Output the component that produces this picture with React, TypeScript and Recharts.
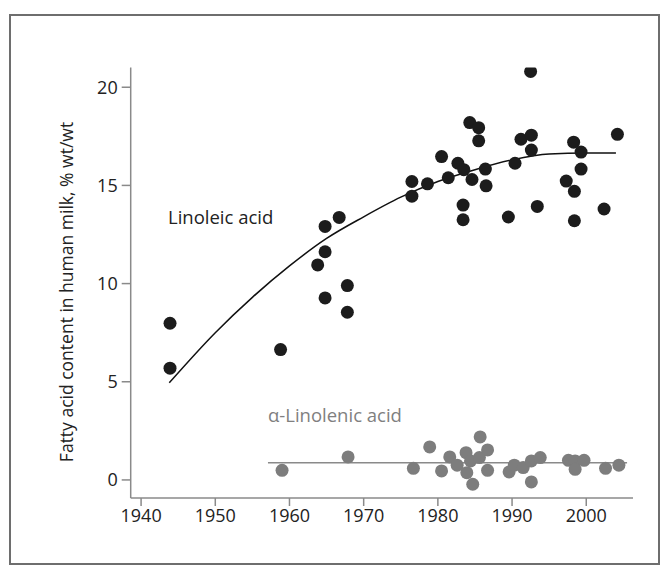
import React from 'react';
import { ComposedChart, Scatter, Line, XAxis, YAxis } from 'recharts';

// Linoleic acid measurements (year, % wt/wt)
const linoleicYears = [
  1943.9, 1943.9, 1958.8, 1963.8, 1964.8, 1964.8, 1964.8, 1966.7, 1967.8, 1967.8,
  1976.5, 1976.5, 1978.6, 1980.5, 1981.4, 1982.7, 1983.5, 1983.4, 1983.4, 1984.3,
  1984.6, 1985.5, 1985.5, 1986.4, 1986.5, 1989.5, 1990.4, 1991.2, 1992.6, 1992.6,
  1992.5, 1993.4, 1997.3, 1998.3, 1998.4, 1998.4, 1999.3, 1999.3, 2002.4, 2004.2,
];
const linoleicValues = [
  7.98, 5.69, 6.64, 10.95, 12.91, 11.62, 9.27, 13.37, 9.9, 8.54,
  15.2, 14.45, 15.08, 16.47, 15.39, 16.13, 15.8, 14.0, 13.25, 18.2,
  15.3, 17.94, 17.27, 15.83, 14.98, 13.39, 16.13, 17.35, 17.56, 16.8,
  20.8, 13.93, 15.22, 17.2, 14.7, 13.2, 16.7, 15.83, 13.8, 17.6,
];

// fitted curve for linoleic acid
const fitYears = [1943.8, 1950, 1955, 1960, 1965, 1970, 1975, 1980, 1985, 1990, 1995, 2000, 2004];
const fitValues = [4.95, 7.5, 9.3, 10.9, 12.3, 13.4, 14.4, 15.2, 15.8, 16.3, 16.6, 16.65, 16.65];

// alpha-linolenic acid measurements
const alphaYears = [
  1959.0, 1967.9, 1976.7, 1978.9, 1980.5, 1981.6, 1982.6, 1983.8, 1983.9, 1984.7,
  1984.4, 1985.6, 1985.7, 1986.7, 1986.7, 1989.6, 1990.3, 1991.5, 1992.6, 1992.6,
  1993.8, 1997.6, 1998.5, 1998.5, 1999.7, 2002.6, 2004.4,
];
const alphaValues = [
  0.49, 1.17, 0.59, 1.68, 0.46, 1.17, 0.75, 1.39, 0.37, -0.22,
  0.97, 1.14, 2.19, 1.53, 0.49, 0.41, 0.75, 0.63, 0.97, -0.1,
  1.14, 1.0, 0.97, 0.54, 1.0, 0.59, 0.75,
];

const alphaMeanYears = [1957.1, 2005.5];
const alphaMeanValues = [0.87, 0.87];

const xTicks = [1940, 1950, 1960, 1970, 1980, 1990, 2000];
const yTicks = [0, 5, 10, 15, 20];

const zip = (xs: number[], ys: number[]) => xs.map((x, i) => ({ x, y: ys[i] }));

const linoleicData = zip(linoleicYears, linoleicValues);
const fitData = zip(fitYears, fitValues);
const alphaData = zip(alphaYears, alphaValues);
const alphaMeanData = zip(alphaMeanYears, alphaMeanValues);

const FONT = '"Open Sans", "Noto Sans", sans-serif';
const AXIS = '#8a8a8a';

const dot = (color: string) => (props: any) => (
  <circle cx={props.cx} cy={props.cy} r={6.5} fill={color} />
);

export default function App() {
  return (
    <div style={{ position: 'absolute', left: 0, top: 0, width: 669, height: 573, background: '#fff', fontFamily: FONT }}>
      <div
        style={{
          position: 'absolute', left: 9, top: 14, width: 651, height: 551,
          border: '2px solid #6e6e6e', boxSizing: 'border-box',
        }}
      />
      <ComposedChart
        width={669}
        height={573}
        margin={{ top: 67.6, right: 36, bottom: 45, left: 70.7 }}
        style={{ position: 'absolute', left: 0, top: 0 }}
      >
        <XAxis
          type="number"
          dataKey="x"
          domain={[1938.6, 2006.3]}
          ticks={xTicks}
          interval={0}
          allowDataOverflow
          height={30}
          stroke={AXIS}
          strokeWidth={1.5}
          tickSize={8}
          tickMargin={3}
          tick={{ fill: '#222', fontSize: 18, fontFamily: FONT }}
        />
        <YAxis
          type="number"
          dataKey="y"
          domain={[-0.92, 21]}
          ticks={yTicks}
          interval={0}
          allowDataOverflow
          width={60}
          stroke={AXIS}
          strokeWidth={1.5}
          tickSize={9}
          tickMargin={4}
          tick={{ fill: '#222', fontSize: 18, fontFamily: FONT }}
        />
        <Line data={alphaMeanData} dataKey="y" type="linear" stroke="#8a8a8a" strokeWidth={1.5} dot={false} isAnimationActive={false} />
        <Line data={fitData} dataKey="y" type="monotone" stroke="#111" strokeWidth={1.5} dot={false} isAnimationActive={false} />
        <Scatter data={alphaData} dataKey="y" shape={dot('#7d7d7d')} isAnimationActive={false} />
        <Scatter data={linoleicData} dataKey="y" shape={dot('#1c1c1c')} isAnimationActive={false} />
      </ComposedChart>
      <div style={{ position: 'absolute', left: 168, top: 204, fontSize: 18.5, lineHeight: '25px', color: '#222', whiteSpace: 'nowrap' }}>
        Linoleic acid
      </div>
      <div style={{ position: 'absolute', left: 268, top: 402, fontSize: 18.5, lineHeight: '25px', color: '#808080', whiteSpace: 'nowrap' }}>
        α-Linolenic acid
      </div>
      <div
        style={{
          position: 'absolute', left: 66, top: 292, fontSize: 17.5, color: '#222', whiteSpace: 'nowrap',
          transform: 'translate(-50%, -50%) rotate(-90deg)',
        }}
      >
        Fatty acid content in human milk, % wt/wt
      </div>
    </div>
  );
}
